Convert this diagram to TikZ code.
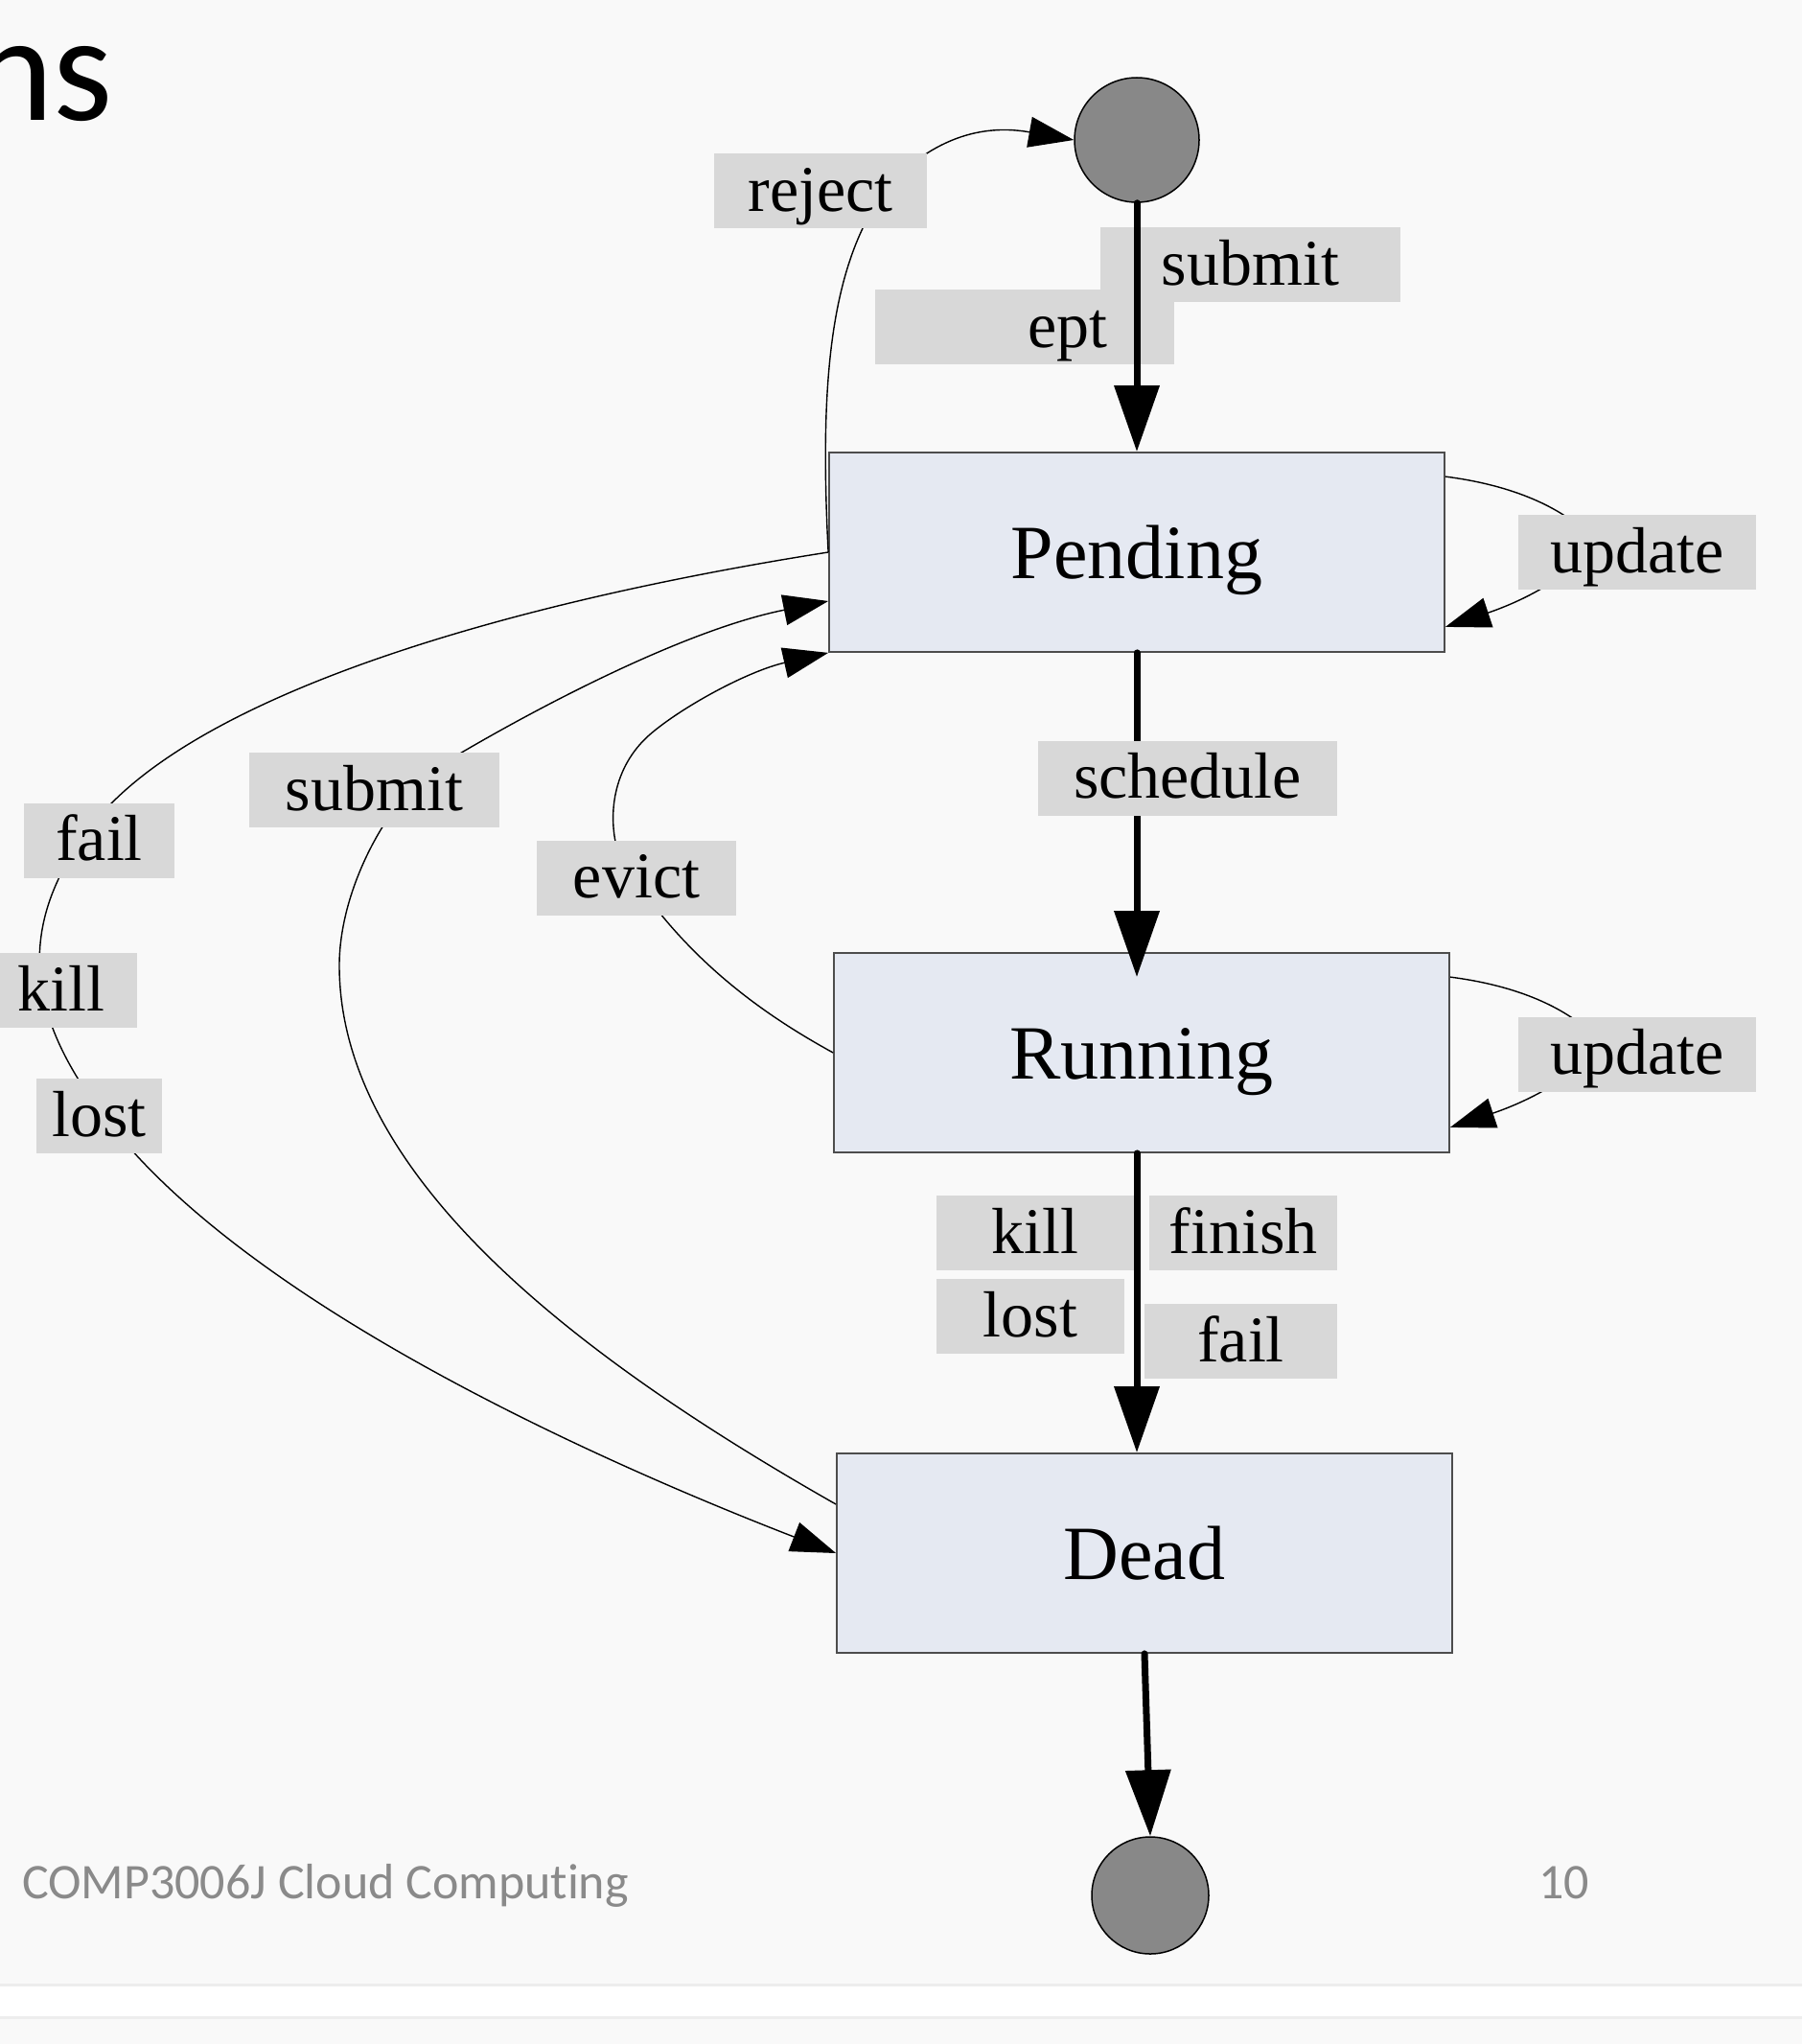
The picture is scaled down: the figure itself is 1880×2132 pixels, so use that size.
\documentclass[tikz,border=0pt]{standalone}
\usepackage{fontspec}
\setmainfont{Liberation Serif}
\newfontfamily\slidefont[Ligatures=NoCommon]{Carlito}
\usetikzlibrary{arrows.meta}
\definecolor{slidebg}{HTML}{F9F9F9}
\definecolor{statefill}{HTML}{E5E9F2}
\definecolor{stateline}{HTML}{4D4D4D}
\definecolor{tagfill}{HTML}{D8D8D8}
\definecolor{dotfill}{HTML}{888888}
\definecolor{footgray}{HTML}{8A8A8A}
\definecolor{rulegray}{HTML}{EDEDED}
\tikzset{node distance=522pt, auto,
  state/.style={draw=stateline, line width=1.8pt, fill=statefill, inner sep=0pt,
    minimum width=642pt, minimum height=208pt,
    font=\fontsize{80pt}{90pt}\selectfont, text height=60pt, text depth=6pt},
  endpoint/.style={circle, draw=black, line width=1.5pt, fill=dotfill,
    minimum size=130pt, inner sep=0pt},
  tag/.style={fill=tagfill, minimum height=78pt, inner sep=0pt,
    font=\fontsize{68pt}{78pt}\selectfont, text height=51pt, text depth=9pt},
  trans/.style={line width=1.4pt, -{Triangle[length=47pt,width=32pt]}},
  main/.style={line width=7pt, line cap=round, -{Triangle[length=69pt,width=46pt]}},
  slidetext/.style={inner sep=0pt, font=\slidefont\fontsize{52pt}{60pt}\selectfont, text=footgray}}

\begin{document}
\begin{tikzpicture}[x=1pt, y=-1pt]
                \useasboundingbox (0,0) rectangle (1880,2132);
                \clip (0,0) rectangle (1880,2132);
                \fill[slidebg] (0,0) rectangle (1880,2132);
                \fill[white] (0,2070) rectangle (1880,2104);
                \draw[rulegray, line width=3pt] (0,2070) -- (1880,2070);
                \draw[rulegray, line width=3pt] (0,2104) -- (1880,2104);
                \node (title) [anchor=base east, inner sep=0pt, font=\slidefont\fontsize{159pt}{170pt}\selectfont] at (118,126) {ns};
                \node (course) [slidetext, anchor=base west] at (23,1980) {COMP3006J Cloud Computing};
                \node (page) [slidetext, anchor=base west] at (1605,1980) {10};
                % states
                \node (pend) [state] at (1186,576) {Pending};
                \node (run) [state, below of=pend, xshift=5pt] {Running};
                \node (dead) [state, below of=run, xshift=3pt] {Dead};
                \node (init) [endpoint, node distance=430pt, above of=pend] {};
                \node (final) [endpoint, minimum size=122pt, node distance=357pt, below of=dead, xshift=6pt] {};
                % thin transitions
                \draw[trans] (pend.west) .. controls (855,400) and (865,270) .. (930,190)
                  .. controls (980,140) and (1030,130) .. (init.west);
                \draw[trans] (pend.west) .. controls (520,630) and (180,730) .. (85,876)
                  .. controls (5,990) and (48,1084) .. (108,1164)
                  .. controls (258,1364) and (640,1530) .. (dead.west);
                \draw[trans] (dead.171) .. controls (610,1420) and (354,1230) .. (354,1007)
                  .. controls (354,940) and (390,860) .. (440,810)
                  .. controls (520,760) and (700,660) .. (pend.189);
                \draw[trans] (run.west) .. controls (800,1060) and (710,1000) .. (645,890)
                  .. controls (633,850) and (640,800) .. (677,767)
                  .. controls (710,738) and (780,700) .. (pend.south west);
                \draw[trans] ([yshift=-26pt]pend.north east) .. controls (1570,505) and (1625,525) .. (1660,560)
                  .. controls (1650,600) and (1580,630) .. ([yshift=27pt]pend.south east);
                \draw[trans] ([yshift=-26pt]run.north east) .. controls (1575,1027) and (1630,1047) .. (1665,1082)
                  .. controls (1655,1122) and (1585,1152) .. ([yshift=27pt]run.south east);
                \draw[main] (pend.south) -- ([yshift=-26pt]pend.south |- run.north);
                % labels
                \node (rej) [tag, minimum width=222pt] at (856,199.5) {reject};
                \node (acc) [tag, minimum width=312pt] at (1068.5,341) {\phantom{acc}ept};
                \node (sub) [tag, minimum width=313pt] at (1304.5,276.5) {submit};
                \node (updP) [tag, minimum width=248pt] at (1708,576) {update};
                \node (sched) [tag, minimum width=312pt] at (1239,811.5) {schedule};
                \node (subL) [tag, minimum width=261pt] at (390.5,824) {submit};
                \node (failL) [tag, minimum width=157pt] at (103.5,876.5) {fail};
                \node (evict) [tag, minimum width=208pt] at (664,915.5) {evict};
                \node (killL) [tag, minimum width=158pt] at (64,1033) {kill};
                \node (lostL) [tag, minimum width=131pt] at (103.5,1164) {lost};
                \node (updR) [tag, minimum width=248pt] at (1708,1099.5) {update};
                \node (kill) [tag, minimum width=206pt] at (1080,1286) {kill};
                \node (finish) [tag, minimum width=196pt] at (1297,1286) {finish};
                \node (lost) [tag, minimum width=196pt] at (1075,1373) {lost};
                \node (fail) [tag, minimum width=201pt] at (1294.5,1399) {fail};
                % thick transitions
                \draw[main] (init.south) -- (pend.north);
                \draw[main] (pend.south |- run.south) -- (pend.south |- dead.north);
                \draw[main] (dead.south) -- (final.north);
              \end{tikzpicture}
\end{document}
